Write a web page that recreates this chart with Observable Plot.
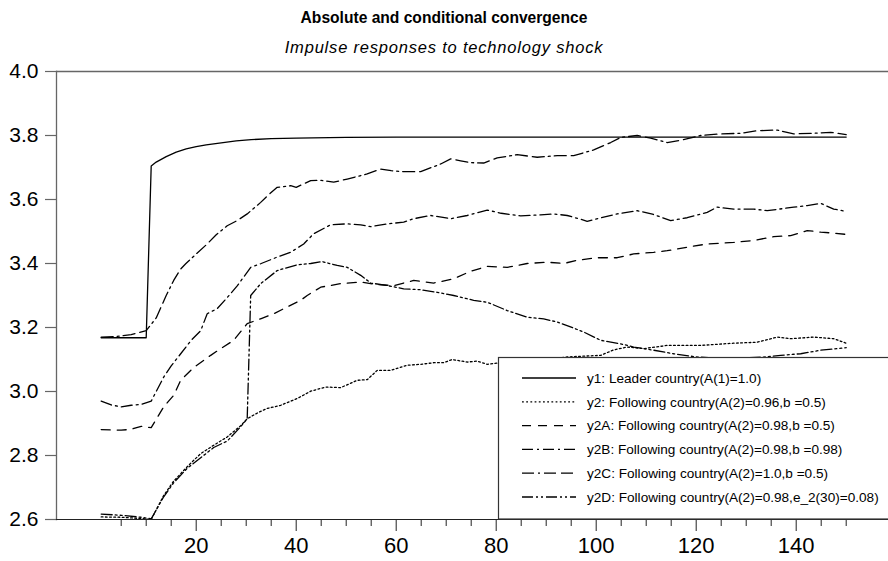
<!DOCTYPE html>
<html><head><meta charset="utf-8">
<script src="https://cdn.jsdelivr.net/npm/d3@7"></script>
<script src="https://cdn.jsdelivr.net/npm/@observablehq/plot@0.6"></script>
<style>
body{margin:0;background:#fff;font-family:"Liberation Sans",Arial,sans-serif;}
#wrap{position:relative;width:888px;height:561px;overflow:hidden;}
#chart{position:absolute;left:0;top:0;}
#title{position:absolute;top:10px;left:0;width:888px;text-align:center;font-weight:bold;font-size:15.6px;line-height:1;color:#000;}
#sub{position:absolute;top:39px;left:0;width:888px;text-align:center;font-style:italic;font-size:16.5px;letter-spacing:0.8px;line-height:1;color:#000;}
</style>
</head><body>
<div id="wrap"><div id="chart"></div>
<div id="title">Absolute and conditional convergence</div>
<div id="sub">Impulse responses to technology shock</div>
</div>
<script>
// ---- data: [period, value] ----
const y1 = [[1,3.168],[10,3.168],[11,3.705],[12,3.717],[14,3.734],[16,3.748],[18,3.758],[20,3.765],[22,3.771],[25,3.777],[28,3.783],[31,3.787],[35,3.79],[40,3.792],[50,3.794],[60,3.795],[80,3.795],[100,3.795],[120,3.795],[150,3.795]];
const y2 = [[1,2.608],[5,2.607],[9,2.603],[11,2.6],[13.5,2.675],[15.5,2.72],[18.2,2.765],[20.9,2.806],[23.5,2.832],[26.2,2.858],[28.9,2.893],[30.2,2.915],[32.5,2.935],[34.2,2.947],[36.9,2.957],[40.2,2.978],[42.9,3.001],[45.9,3.014],[48.9,3.012],[52.2,3.035],[54.2,3.037],[56.2,3.066],[58.9,3.066],[62.2,3.082],[64.9,3.085],[67.5,3.09],[69.5,3.09],[71.2,3.1],[74.2,3.092],[76.2,3.095],[78.2,3.085],[80.9,3.09],[85,3.095],[90,3.1],[94.2,3.108],[100.9,3.113],[103.5,3.13],[106.2,3.139],[109.5,3.134],[114.2,3.144],[120.9,3.144],[127.5,3.151],[132.2,3.154],[136.2,3.17],[138.9,3.165],[143.5,3.17],[147.5,3.165],[150,3.151]];
const y2A = [[1,2.881],[5,2.879],[7,2.882],[9,2.891],[11,2.887],[13.5,2.952],[15.5,2.988],[16.9,3.035],[19.5,3.075],[22.9,3.113],[25,3.135],[27.5,3.16],[30.2,3.212],[33,3.228],[35.5,3.243],[38.2,3.264],[40.9,3.285],[42.2,3.3],[44.9,3.326],[48.9,3.337],[52.9,3.342],[56.2,3.334],[59.5,3.331],[63.5,3.347],[67.5,3.339],[71.5,3.352],[74.9,3.376],[78.2,3.391],[82.2,3.388],[86.2,3.4],[90.2,3.404],[93.5,3.4],[96.2,3.41],[100.2,3.418],[104.2,3.418],[107.5,3.43],[111.5,3.435],[114.2,3.44],[118.2,3.451],[122.2,3.461],[127.5,3.466],[131.5,3.472],[135.5,3.484],[138.9,3.487],[142.2,3.503],[144.9,3.498],[147.5,3.495],[150,3.491]];
const y2B = [[1,2.97],[3,2.958],[5,2.952],[7,2.957],[9,2.96],[11,2.97],[13.5,3.045],[15,3.08],[16.9,3.118],[19,3.16],[20.9,3.19],[22.2,3.243],[24.2,3.259],[26,3.29],[28.2,3.33],[30.9,3.388],[33,3.4],[36.2,3.42],[38.9,3.435],[41.5,3.461],[43.5,3.493],[46.9,3.521],[50.2,3.524],[52.9,3.521],[54.9,3.515],[58.2,3.524],[61.5,3.529],[63.5,3.54],[66.9,3.55],[70.9,3.54],[74.2,3.55],[78.2,3.567],[81,3.557],[84.9,3.549],[88.9,3.552],[91.5,3.555],[94.2,3.55],[96.5,3.54],[98.2,3.532],[101.5,3.545],[104.2,3.555],[108.2,3.565],[111.5,3.553],[114.9,3.534],[118.2,3.543],[122.2,3.56],[124.2,3.576],[127.5,3.57],[131.5,3.57],[134.2,3.565],[139.5,3.576],[142.2,3.581],[144.9,3.588],[147.5,3.57],[150,3.563]];
const y2C = [[1,3.17],[4,3.172],[7,3.178],[10,3.19],[12,3.23],[14,3.3],[15.5,3.347],[16.9,3.383],[17.9,3.399],[20,3.43],[22.2,3.461],[24,3.49],[26.2,3.518],[28.2,3.534],[30.2,3.555],[32.9,3.591],[34.5,3.615],[36.2,3.638],[38.9,3.643],[40,3.638],[42.9,3.659],[45,3.66],[47.5,3.654],[50.2,3.664],[54.2,3.68],[56.9,3.695],[59,3.69],[61.5,3.687],[64.9,3.687],[68.9,3.711],[70.9,3.727],[72.9,3.721],[75,3.715],[77.5,3.714],[80.2,3.73],[84.2,3.74],[88.2,3.732],[92.2,3.737],[95.5,3.737],[99.5,3.755],[102.9,3.778],[104.9,3.794],[108.2,3.8],[110.9,3.792],[114.2,3.778],[117.2,3.786],[120.9,3.8],[124.9,3.805],[128.9,3.807],[132.2,3.815],[136.2,3.817],[139.5,3.805],[143.5,3.807],[146.9,3.81],[150,3.803]];
const y2D = [[1,2.617],[5,2.613],[9,2.607],[11,2.602],[13.5,2.671],[15.5,2.715],[18.2,2.76],[20.9,2.793],[23.5,2.825],[26.2,2.845],[28.9,2.89],[30.2,2.915],[30.9,3.3],[32.9,3.337],[36.2,3.378],[40.2,3.396],[42.9,3.4],[45.2,3.406],[48.2,3.394],[50.2,3.388],[52.9,3.363],[54.9,3.339],[58.2,3.331],[61.5,3.321],[64.9,3.318],[68.2,3.31],[71.5,3.3],[75.5,3.285],[78.2,3.279],[82.2,3.253],[86.2,3.232],[89.5,3.227],[92.2,3.217],[95.5,3.198],[97.5,3.186],[100.9,3.16],[104.9,3.149],[107.5,3.139],[111.5,3.129],[115.5,3.118],[120,3.108],[125,3.103],[130,3.105],[134,3.108],[136.9,3.113],[140.9,3.118],[144.9,3.129],[150,3.137]];

const seriesLabels = [
  "y1: Leader country(A(1)=1.0)",
  "y2: Following country(A(2)=0.96,b =0.5)",
  "y2A: Following country(A(2)=0.98,b =0.5)",
  "y2B: Following country(A(2)=0.98,b =0.98)",
  "y2C: Following country(A(2)=1.0,b =0.5)",
  "y2D: Following country(A(2)=0.98,e_2(30)=0.08)"
];
const yTicks = [2.6, 2.8, 3.0, 3.2, 3.4, 3.6, 3.8, 4.0];
const xMajorTicks = [20, 40, 60, 80, 100, 120, 140];
const xMinorTicks = [5,10,15,25,30,35,45,50,55,65,70,75,85,90,95,105,110,115,125,130,135,145,150];

// ---- styles ----
const seriesData = [y1, y2, y2A, y2B, y2C, y2D];
const dashes = [null, "1.8,2.4", "9,7", "11,4,2,4", "12,4,2,4,12,5", "11,3,2,3,2,3"];

const lineMarks = seriesData.map((s, i) => Plot.line(s, {
  x: d => d[0], y: d => d[1], stroke: "#000", strokeWidth: 1.3,
  strokeDasharray: dashes[i] || undefined
}));

const svg = Plot.plot({
  width: 888, height: 561,
  marginLeft: 56, marginRight: 0, marginTop: 71, marginBottom: 42,
  style: {fontFamily: '"Liberation Sans", Arial, sans-serif', background: "transparent", color: "#000"},
  x: {domain: [-7.94, 158.46], label: null},
  y: {domain: [2.6, 4.0], label: null},
  marks: [
    Plot.ruleY([4.0], {stroke: "#666", strokeWidth: 1.3}),
    Plot.frame({anchor: "left", stroke: "#666", strokeWidth: 1.3}),
    Plot.axisY({ticks: yTicks, tickSize: 11, tickPadding: 7, tickFormat: d3.format(".1f"), fontSize: 21, stroke: "#666", strokeWidth: 1.2, fill: "#000"}),
    Plot.axisX({ticks: xMinorTicks, tickSize: 7, text: null, stroke: "#222"}),
    Plot.axisX({ticks: xMajorTicks, tickSize: 12, tickPadding: 6, fontSize: 22, stroke: "#222", fill: "#000", tickFormat: d => String(d)}),
    ...lineMarks,
    Plot.frame({anchor: "bottom", stroke: "#222", strokeWidth: 1.2})
  ]
});
document.getElementById("chart").appendChild(svg);

// ---- legend box over the plot area ----
const g = d3.select(svg).append("g").attr("text-anchor", "start");
g.append("rect").attr("x", 498.5).attr("y", 357.5).attr("width", 400).attr("height", 161.5)
  .attr("fill", "#fff").attr("stroke", "#333").attr("stroke-width", 1.2);
seriesLabels.forEach((lab, i) => {
  const yy = 378 + i * 23.8;
  const ln = g.append("line").attr("x1", 522).attr("x2", 576).attr("y1", yy).attr("y2", yy)
    .attr("stroke", "#000").attr("stroke-width", 1.3);
  if (dashes[i]) ln.attr("stroke-dasharray", dashes[i]);
  g.append("text").attr("x", 587).attr("y", yy).attr("dy", "0.35em").attr("text-anchor", "start")
    .attr("font-size", 13.6).attr("fill", "#000").text(lab);
});
</script>
</body></html>
